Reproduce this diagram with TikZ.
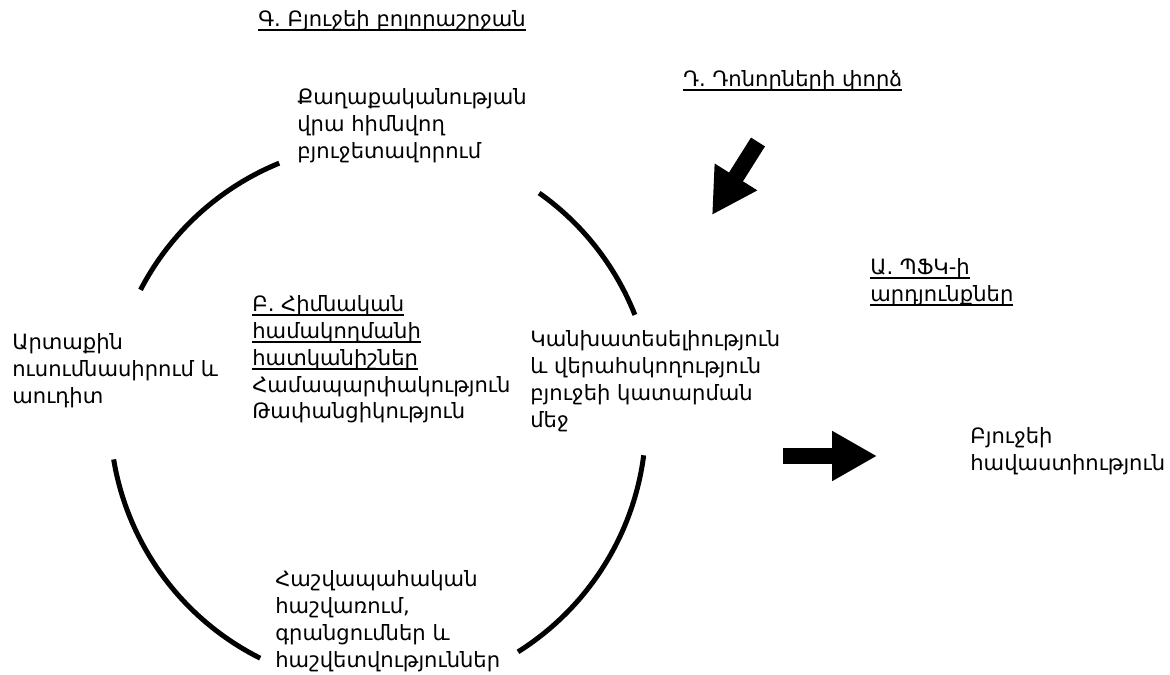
\documentclass[tikz,border=0pt]{standalone}
\usepackage{fontspec}
\setmainfont{DejaVu Sans}
\usetikzlibrary{arrows.meta}
\newcommand{\ulx}[1]{\setbox0\hbox{#1}\leavevmode\rlap{\copy0}\rule[-2.6pt]{\wd0}{1.1pt}}

\begin{document}
\begin{tikzpicture}[x=0.02cm,y=-0.02cm,
    lbl/.style={anchor=north west,inner sep=0pt,align=left,font=\fontsize{12}{15.3}\selectfont},
    cyc/.style={line width=1mm},
    blk/.style={line width=3.3mm,-{Triangle[length=9mm,width=9.4mm]}}]
\useasboundingbox (0,0) rectangle (1170,675);

% the budget cycle
\draw[cyc] (382,415) ++(207.4:272) arc[start angle=207.4,end angle=247.8,radius=272];
\draw[cyc] (382,415) ++(305.3:272) arc[start angle=305.3,end angle=338.4,radius=272];
\draw[cyc] (372,420) ++(7.4:274) arc[start angle=7.4,end angle=57.8,radius=274];
\draw[cyc] (382,415) ++(116.6:272) arc[start angle=116.6,end angle=170.6,radius=272];

\node[lbl] (cycle) at (258,10) {\ulx{Գ. Բյուջեի բոլորաշրջան}};
\node[lbl] (donor) at (683,70) {\ulx{Դ. Դոնորների փորձ}};
\node[lbl] (policy) at (297,88) {Քաղաքականության\\վրա հիմնվող\\բյուջետավորում};
\node[lbl] (results) at (870,258) {\ulx{Ա. ՊՖԿ-ի}\\\ulx{արդյունքներ}};
\node[lbl] (audit) at (12,333) {Արտաքին\\ուսումնասիրում և\\աուդիտ};
\node[lbl] (key) at (252,295) {\ulx{Բ. Հիմնական}\\\ulx{համակողմանի}\\\ulx{հատկանիշներ}\\Համապարփակություն\\Թափանցիկություն};
\node[lbl] (control) at (530,330) {Կանխատեսելիություն\\և վերահսկողություն\\բյուջեի կատարման\\մեջ};
\node[lbl] (credible) at (970,427) {Բյուջեի\\հավաստիություն};
\node[lbl] (account) at (275,570) {Հաշվապահական\\հաշվառում,\\գրանցումներ և\\հաշվետվություններ};

% block arrows
\coordinate (donortail) at (758,142);
\coordinate (donortip) at (712,215);
\coordinate (flowtail) at (783,456);
\coordinate (flowtip) at (877,456);
\draw[blk] (donortail) -- (donortip);
\draw[blk] (flowtail) -- (flowtip);
\end{tikzpicture}
\end{document}
